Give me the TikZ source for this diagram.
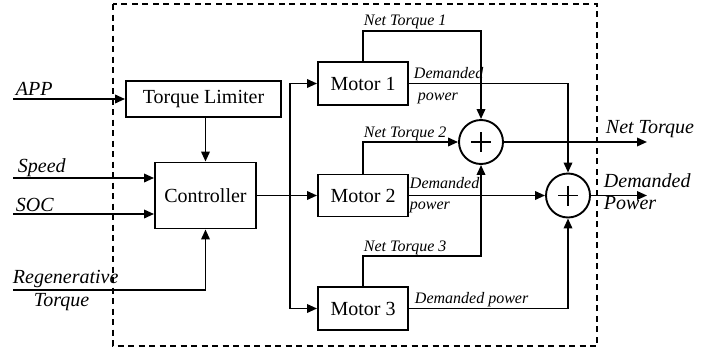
\documentclass[tikz,border=0pt]{standalone}
\usepackage{fontspec}
\setmainfont{Liberation Serif}
\usetikzlibrary{arrows.meta}
\begin{document}
\begin{tikzpicture}[x=1pt,y=-1pt,
  every path/.style={line width=1.9pt},
  arr/.style={-{Triangle[length=10pt,width=8.5pt]}},
  blk/.style={draw, line width=1.9pt, inner sep=0pt, font=\fontsize{20}{24}\selectfont},
  sum/.style={draw, circle, line width=1.9pt, minimum size=44pt, inner sep=0pt},
  big/.style={inner sep=0pt, anchor=base west, font=\fontsize{20}{22}\selectfont\itshape},
  sml/.style={inner sep=0pt, anchor=base west, font=\fontsize{16}{18}\selectfont\itshape}]
\useasboundingbox (0,0) rectangle (719,351);
\draw[line width=1.6pt, dash pattern=on 6pt off 4.5pt] (113,4) rectangle (597,346);
% blocks
\node[blk, minimum width=155pt, minimum height=36pt] (tl) at (203.5,99) {Torque Limiter};
\node[blk, minimum width=101pt, minimum height=66pt] (ctrl) at (205.5,195.5) {Controller};
\node[blk, minimum width=90pt, minimum height=43pt] (m1) at (363,83.5) {Motor 1};
\node[blk, minimum width=90pt, minimum height=42pt] (m2) at (363,195.5) {Motor 2};
\node[blk, minimum width=90pt, minimum height=43pt] (m3) at (363,308.5) {Motor 3};
\node[sum] (s1) at (481,142) {};
\node[sum] (s2) at (568,195.5) {};
\draw (s1.center) ++(-10,0) -- ++(20,0);
\draw (s1.center) ++(0,-10) -- ++(0,20);
\draw (s2.center) ++(-10,0) -- ++(20,0);
\draw (s2.center) ++(0,-10) -- ++(0,20);
% coordinates
\coordinate (app) at (13,99);
\coordinate (spd) at (13,178);
\coordinate (soc) at (13,214);
\coordinate (reg) at (13,290);
\coordinate (bus) at (290,195.5);
\coordinate (nt1) at (481,31);
\coordinate (nt3) at (481,256);
\coordinate (o1) at (647,142);
\coordinate (o2) at (647,195.5);
% inputs
\draw[arr] (app) -- (tl.west);
\draw[arr] (spd) -- (spd -| ctrl.west);
\draw[arr] (soc) -- (soc -| ctrl.west);
\draw[arr] (reg) -| (ctrl.south);
\draw[arr] (tl.south -| ctrl.north) -- (ctrl.north);
% controller to motors
\draw[arr] (ctrl.east) -- (m2.west);
\draw[arr] (bus) |- (m1.west);
\draw[arr] (bus) |- (m3.west);
% net torque
\draw[arr] (m1.north) |- (nt1) -- (s1.north);
\draw[arr] (m2.north) |- (s1.west);
\draw[arr] (m3.north) |- (nt3) -- (s1.south);
\draw[arr] (s1.east) -- (o1);
% demanded power
\draw[arr] (m1.east) -| (s2.north);
\draw[arr] (m2.east) -- (s2.west);
\draw[arr] (m3.east) -| (s2.south);
\draw[arr] (s2.east) -- (o2);
% labels
\node[big] (lapp) at (15,95) {APP};
\node[big] (lspd) at (17,172) {Speed};
\node[big] (lsoc) at (15,211) {SOC};
\node[big] (lreg) at (12,283) {Regenerative};
\node[big] (lreg2) at (33,306) {Torque};
\node[sml] (lnt1) at (363,25) {Net Torque 1};
\node[sml] (lnt2) at (363,137) {Net Torque 2};
\node[sml] (lnt3) at (363,251) {Net Torque 3};
\node[sml] (ld1) at (413,78) {Demanded};
\node[sml] (lp1) at (417,100) {power};
\node[sml] (ld2) at (409,188) {Demanded};
\node[sml] (lp2) at (409,209) {power};
\node[sml] (ld3) at (414,303) {Demanded power};
\node[big] (lnt) at (605,133) {Net Torque};
\node[big] (ldp) at (603,187) {Demanded};
\node[big] (ldp2) at (603,209) {Power};
\end{tikzpicture}
\end{document}
